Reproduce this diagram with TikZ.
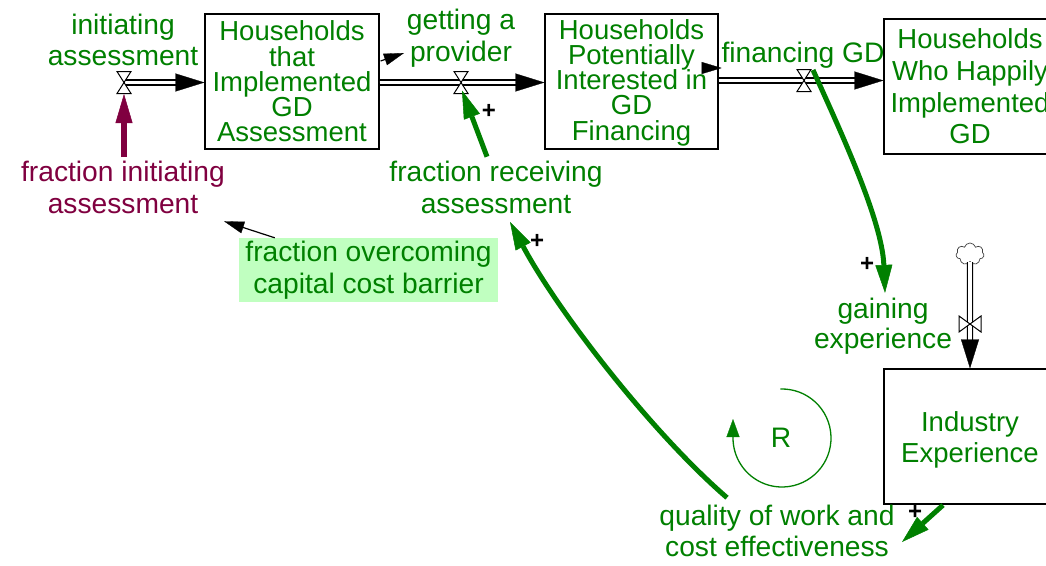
\documentclass[tikz,border=0pt]{standalone}
\usepackage{fontspec}
\setmainfont{Liberation Sans}
\usetikzlibrary{arrows.meta,shapes.symbols,calc}
\definecolor{vgreen}{RGB}{0,128,0}
\definecolor{vpurple}{RGB}{128,0,64}
\definecolor{vlight}{RGB}{192,255,192}
\lineskiplimit=-60pt
\begin{document}
\begin{tikzpicture}[x=1pt,y=-1pt,
  bfont/.style={font=\fontsize{27.5}{#1}\selectfont},
  lfont/.style={font=\fontsize{28.2}{#1}\selectfont},
  lbl/.style={lfont=31.5, inner sep=0pt, align=center, text=vgreen},
  stock/.style={draw=black, line width=1.2pt, inner sep=0pt, align=center, text=vgreen,
                minimum width=174pt, minimum height=135pt},
  plus/.style={font=\bfseries\fontsize{24}{24}\selectfont, inner sep=0pt, text=black},
  pipe/.style={draw=black, line width=1.2pt, double=white, double distance=3.8pt},
  pipetip/.style={draw=white, line width=0.3pt,
                  -{Triangle[length=29pt,width=18pt,color=black,fill=black,line width=0.3pt]}},
  valve/.style={draw=black, line width=1pt, fill=white, line join=miter},
  gl/.style={draw=vgreen, line width=5pt, -{Triangle[length=28pt,width=17pt,line width=0.5pt]}},
  pl/.style={draw=vpurple, line width=5.5pt, -{Triangle[length=29pt,width=17pt,line width=0.5pt]}},
  info/.style={draw=black, line width=1.2pt, -{Triangle[length=20pt,width=12pt,line width=0.3pt]}},
  loopar/.style={draw=vgreen, line width=1.3pt, -{Triangle[length=18pt,width=13pt,line width=0.3pt]}},
]
\useasboundingbox (0,0) rectangle (1046,565);
\clip (0,0) rectangle (1046,565);
\fill[white] (0,0) rectangle (1046,565);

% stocks
\node[stock, bfont=25.3] (S1) at (292,81.5) {Households\\that\\Implemented\\GD\\Assessment};
\node[stock, bfont=25.3, minimum width=173pt] (S2) at (631.5,81.5) {\rule{0pt}{22pt}Households\\Potentially\\Interested in\\GD\\Financing};
\node[stock, bfont=31.7, minimum width=172pt] (S3) at (970,86.5) {Households\\Who Happily\\Implemented\\GD};
\node[stock, bfont=30.7, minimum width=172pt] (S4) at (970,436.5) {\rule{0pt}{26pt}Industry\\Experience};

% labels
\node[lbl] (Lia) at (123,40) {initiating\\assessment};
\node[lbl] (Lgp) at (461,38.3) {getting a\\provider};
\node[lbl] (Lfg) at (803,55) {financing GD};
\node[lbl, text=vpurple] (Lfi) at (123,187.5) {fraction initiating\\assessment};
\node[lbl] (Lfr) at (496,187.5) {fraction receiving\\assessment};
\node[lbl, fill=vlight, minimum width=259pt, minimum height=64pt] (Lfo) at (368.5,270) {fraction overcoming\\capital cost barrier};
\node[lbl, lfont=29.5] (Lge) at (883,326) {gaining\\experience};
\node[lbl] (Lq) at (777,531) {quality of work and\\cost effectiveness};
\node[lbl] (R) at (781,438) {R};

% polarity signs
\node[plus] (p1) at (489,111) {+};
\node[plus] (p2) at (537,241) {+};
\node[plus] (p3) at (867,264) {+};
\node[plus] (p4) at (915,512) {+};

% valves and cloud positions
\coordinate (V1) at (124,82.5);
\coordinate (V2) at (461,82.5);
\coordinate (V3) at (804,80.5);
\coordinate (V4) at (970,324);
\node[cloud, draw=black!75, line width=0.7pt, cloud puffs=7, aspect=1.3,
      minimum width=28pt, minimum height=22pt, inner sep=0pt] (C) at (970,254) {};

% pipes
\draw[pipe, shorten >=22pt] (V1) -- (V1 -| S1.west);
\draw[pipetip] (V1) -- (V1 -| S1.west);
\draw[pipe, shorten >=22pt] (V2 -| S1.east) -- (V2 -| S2.west);
\draw[pipetip] (V2 -| S1.east) -- (V2 -| S2.west);
\draw[pipe, shorten >=22pt] (V3 -| S2.east) -- (V3 -| S3.west);
\draw[pipetip] (V3 -| S2.east) -- (V3 -| S3.west);
\draw[pipe, shorten >=22pt] (C.south) -- (S4.north);
\draw[pipetip] (C.south) -- (S4.north);

% valves
\draw[valve, shift={(V1)}] (-7,-11) -- (7,-11) -- (-7,11) -- (7,11) -- cycle;
\draw[valve, shift={(V2)}] (-7,-11) -- (7,-11) -- (-7,11) -- (7,11) -- cycle;
\draw[valve, shift={(V3)}] (-7,-11) -- (7,-11) -- (-7,11) -- (7,11) -- cycle;
\draw[valve, shift={(V4)}] (-11,-8) -- (-11,8) -- (11,-8) -- (11,8) -- cycle;

% arrow end points
\coordinate (a1) at ($(V1 |- Lfi.north)+(0,-4)$);
\coordinate (a2) at ($(V1)+(0,11.5)$);
\coordinate (t1) at (404,53);
\coordinate (q4) at (902,542);
\coordinate (Rc) at (782,438);

% connectors
\draw[pl] (a1) -- (a2);
\draw[gl] ($(Lfr.north)+(-9,-4.5)$) -- ($(V2)+(1,8)$);
\draw[gl] ($(V3)+(9,-10.5)$) .. controls (840,130) and (882,220) .. ($(Lge.north)+(2,-5)$);
\draw[gl] ($(Lq.north)+(-50,-7)$) .. controls (651,432) and (557,310) .. ($(Lfr.south)+(14,8)$);
\draw[gl] ($(S4.south)+(-27,0.5)$) -- (q4);
\draw[info] ($(Lfo.north west)+(36,0)$) -- ($(Lfi.south east)+(-1,7.5)$);
\draw[info] ($(S1.east)+(1,-20.5)$) -- (t1);
\draw[info] ($(S2.east)+(0,-13.5)$) -- ++(3,0);
\draw[loopar] ([shift={(268:49)}]Rc) arc[start angle=268, end angle=540, radius=49] -- ++(0,-19);
\end{tikzpicture}
\end{document}
